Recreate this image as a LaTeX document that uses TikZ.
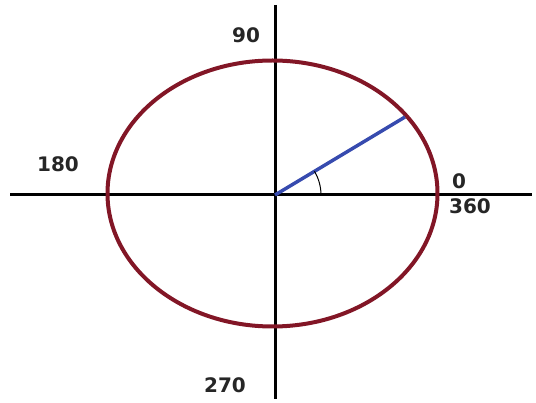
\documentclass[tikz,border=0pt]{standalone}
\usepackage{fontspec}
\setmainfont{DejaVu Sans}
\usetikzlibrary{calc}
\begin{document}
\begin{tikzpicture}[
  x=1pt, y=-1pt,
  circaxis/.style = {line width=3pt, black},
  circring/.style = {line width=4pt, draw={rgb,255:red,130;green,22;blue,38}},
  circradius/.style = {line width=3.5pt, draw={rgb,255:red,55;green,75;blue,175}},
  circlbl/.style = {font=\fontsize{20}{24}\selectfont\bfseries, text=black!85, inner sep=1pt}
]
  \useasboundingbox (0,0) rectangle (536,403);
  % Mittelpunkt und Achsenenden
  \coordinate (o) at (275,195);
  \coordinate (west) at (10,195);
  \coordinate (east) at (532,195);
  \coordinate (north) at (275,5);
  \coordinate (south) at (275,399);
  \coordinate (tip) at (405,117);
  % Achsen
  \draw[circaxis] (west) -- (east);
  \draw[circaxis] (north) -- (south);
  % Kreis
  \draw[circring] (272.5,193.5) ellipse (165 and 133);
  % Radius und Winkel
  \draw[circradius] (o) -- (tip);
  \draw[line width=1pt] ($(o)+(46,0)$) arc[start angle=0, end angle=-31, radius=46];
  % Beschriftung
  \node[circlbl] (l90) at (246,35) {90};
  \node[circlbl] (l180) at (58,164) {180};
  \node[circlbl] (l0) at (459,181) {0};
  \node[circlbl] (l360) at (470,206) {360};
  \node[circlbl] (l270) at (225,385) {270};
\end{tikzpicture}
\end{document}
